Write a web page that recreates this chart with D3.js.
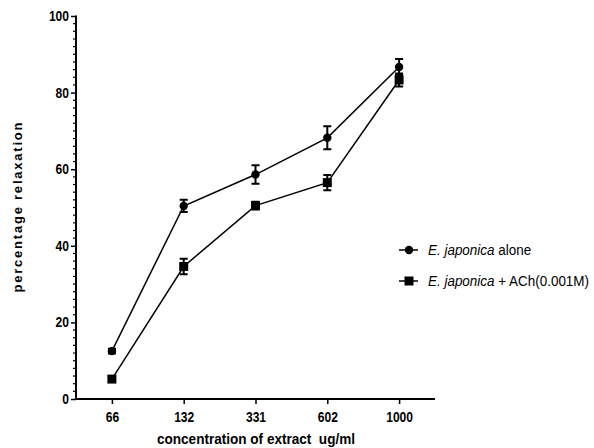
<!DOCTYPE html>
<html>
<head>
<meta charset="utf-8">
<script src="https://cdn.jsdelivr.net/npm/d3@7"></script>
<style>
  body { margin: 0; background: #fff; }
  svg { display: block; }
  .tick-label { font-family: 'Liberation Sans', Arial, sans-serif; font-weight: bold; font-size: 14px; }
  .axis-title { font-family: 'Liberation Sans', Arial, sans-serif; font-weight: bold; white-space: pre; }
  .legend-text { font-family: 'Liberation Sans', Arial, sans-serif; font-size: 14px; }
</style>
</head>
<body>
<svg id="chart" width="594" height="448"></svg>
<script>
// data
var concentrations = ['66', '132', '331', '602', '1000'];
var aloneMean = [12.5, 50.4, 58.6, 68.2, 86.7];
var aloneErr = [0.6, 1.6, 2.4, 3.0, 2.1];
var achMean = [5.2, 34.6, 50.5, 56.5, 83.3];
var achErr = [0.6, 2.0, 1.0, 2.0, 1.7];
var yTicks = [0, 20, 40, 60, 80, 100];

var seriesNames = ['alone', '+ ACh(0.001M)'];

(function () {
  "use strict";

  var svg = d3.select('#chart');
  var margin = { left: 76, right: 159, top: 16, bottom: 49 };
  var W = 594, H = 448;

  var x = d3.scalePoint()
    .domain(concentrations)
    .range([margin.left, W - margin.right])
    .padding(0.5);

  var y = d3.scaleLinear()
    .domain([0, 100])
    .range([H - margin.bottom, margin.top]);

  var series = [
    { name: seriesNames[0], mean: aloneMean, err: aloneErr, shape: 'circle' },
    { name: seriesNames[1], mean: achMean, err: achErr, shape: 'square' }
  ];

  // squeeze a text node horizontally (the original uses a narrow face)
  function squeeze(sel, k) {
    sel.each(function () {
      var len = this.getComputedTextLength();
      d3.select(this).attr('textLength', len * k).attr('lengthAdjust', 'spacingAndGlyphs');
    });
  }

  // y axis: major + minor ticks
  var yAxis = svg.append('g')
    .attr('transform', 'translate(' + margin.left + ',0)')
    .call(d3.axisLeft(y).tickValues(yTicks).tickSize(5).tickSizeOuter(0).tickPadding(2));
  yAxis.selectAll('.tick text').attr('class', 'tick-label').attr('font-family', null).attr('font-size', null);

  svg.append('g')
    .attr('transform', 'translate(' + margin.left + ',0)')
    .selectAll('line')
    .data(d3.range(0, 101, 2).filter(function (v) { return v % 20 !== 0; }))
    .enter().append('line')
    .attr('x1', -3).attr('x2', 0)
    .attr('y1', function (d) { return y(d); })
    .attr('y2', function (d) { return y(d); })
    .attr('stroke', '#000').attr('stroke-width', 1.2);

  // x axis
  var xAxis = svg.append('g')
    .attr('transform', 'translate(0,' + (H - margin.bottom) + ')')
    .call(d3.axisBottom(x).tickSize(5).tickSizeOuter(0).tickPadding(8));
  xAxis.selectAll('.tick text').attr('class', 'tick-label').attr('font-family', null).attr('font-size', null);

  squeeze(svg.selectAll('.tick-label'), 0.86);

  [yAxis, xAxis].forEach(function (a) {
    a.selectAll('.tick line').attr('stroke-width', 1.5);
    a.select('.domain').attr('stroke-width', 2);
  });
  yAxis.select('.domain').attr('d', 'M0,' + (y(100) - 0.5) + 'V' + (y(0) + 1));
  xAxis.select('.domain').attr('d', 'M' + (margin.left - 1) + ',0H' + (W - margin.right));

  // axis titles
  svg.append('text')
    .attr('class', 'axis-title')
    .attr('transform', 'translate(22,' + ((y(0) + y(100)) / 2) + ') rotate(-90)')
    .attr('text-anchor', 'middle')
    .attr('font-size', 13)
    .attr('textLength', 170)
    .attr('lengthAdjust', 'spacing')
    .text('percentage relaxation');

  svg.append('text')
    .attr('class', 'axis-title')
    .attr('x', 256).attr('y', 444)
    .attr('text-anchor', 'middle')
    .attr('font-size', 15)
    .attr('textLength', 198)
    .attr('lengthAdjust', 'spacingAndGlyphs')
    .text('concentration of extract  ug/ml');

  var line = d3.line()
    .x(function (d, i) { return x(concentrations[i]); })
    .y(function (d) { return y(d); });

  function drawMarker(g, shape, cx, cy) {
    if (shape === 'circle') {
      g.append('circle').attr('cx', cx).attr('cy', cy).attr('r', 4.2).attr('fill', '#000');
    } else {
      g.append('rect').attr('x', cx - 4.5).attr('y', cy - 4.5).attr('width', 9).attr('height', 9).attr('fill', '#000');
    }
  }

  series.forEach(function (s) {
    var g = svg.append('g').attr('class', 'series');
    g.append('path')
      .attr('d', line(s.mean))
      .attr('fill', 'none')
      .attr('stroke', '#000')
      .attr('stroke-width', 1.5);

    s.mean.forEach(function (m, i) {
      var cx = x(concentrations[i]);
      var top = y(m + s.err[i]), bot = y(m - s.err[i]);
      g.append('path')
        .attr('d', 'M' + cx + ',' + top + 'V' + bot +
          'M' + (cx - 4) + ',' + top + 'H' + (cx + 4) +
          'M' + (cx - 4) + ',' + bot + 'H' + (cx + 4))
        .attr('stroke', '#000').attr('stroke-width', 2).attr('fill', 'none');
      drawMarker(g, s.shape, cx, y(m));
    });
  });

  // legend
  var legend = svg.append('g').attr('transform', 'translate(399,250)');
  series.forEach(function (s, i) {
    var row = legend.append('g').attr('transform', 'translate(0,' + (i * 31) + ')');
    row.append('line').attr('x1', 0).attr('x2', 19).attr('y1', 0).attr('y2', 0)
      .attr('stroke', '#000').attr('stroke-width', 1.5);
    drawMarker(row, s.shape, 10, 0);
    var t = row.append('text').attr('class', 'legend-text').attr('x', 29).attr('y', 5);
    t.append('tspan').attr('font-style', 'italic').text('E. japonica');
    t.append('tspan').text(' ' + s.name);
    squeeze(t, 0.96);
  });
}());
</script>
</body>
</html>
